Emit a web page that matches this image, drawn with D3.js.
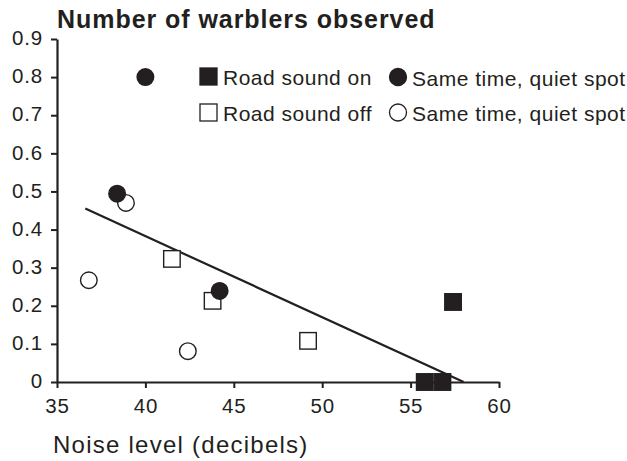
<!DOCTYPE html>
<html>
<head>
<meta charset="utf-8">
<script src="https://cdn.jsdelivr.net/npm/d3@7"></script>
<style>
  html, body { margin: 0; padding: 0; background: #fff; }
  svg { display: block; font-family: "Liberation Sans", Arial, Helvetica, sans-serif; }
</style>
</head>
<body>
<svg id="chart" width="627" height="461"></svg>
<script>
// ---- data ----
const xTicks = [35, 40, 45, 50, 55, 60];
const yTicks = [0, 0.1, 0.2, 0.3, 0.4, 0.5, 0.6, 0.7, 0.8, 0.9];
const roadSoundOn = [[55.8, 0], [56.8, 0], [57.4, 0.21]];
const roadSoundOff = [[41.5, 0.323], [43.8, 0.213], [49.2, 0.108]];
const quietOnFilled = [[40.0, 0.80], [38.4, 0.494], [44.2, 0.239]];
const quietOffOpen = [[38.9, 0.47], [36.8, 0.267], [42.4, 0.081]];
const trendLine = [[36.6, 0.455], [58.0, 0]];
const legendLabels = ["Road sound on", "Same time, quiet spot", "Road sound off", "Same time, quiet spot"];
const titleText = "Number of warblers observed";
const xTitle = "Noise level (decibels)";

// ---- setup ----
const ink = "#231f20";
const svg = d3.select("#chart");
const x = d3.scaleLinear().domain([35, 60]).range([57, 499]);
const y = d3.scaleLinear().domain([0, 0.9]).range([382, 39]);

// axes
const yAxis = svg.append("g").attr("transform", "translate(57,0)")
  .call(d3.axisLeft(y).tickValues(yTicks).tickSize(6).tickSizeOuter(0).tickPadding(8)
    .tickFormat(d => d === 0 ? "0" : d3.format(".1f")(d)));
const xAxis = svg.append("g").attr("transform", "translate(0,382)")
  .call(d3.axisBottom(x).tickValues(xTicks).tickSize(6).tickSizeOuter(0).tickPadding(6)
    .tickFormat(d3.format("d")));
[yAxis, xAxis].forEach(g => {
  g.select(".domain").attr("stroke", ink).attr("stroke-width", 2.2);
  g.selectAll(".tick line").attr("stroke", ink).attr("stroke-width", 2);
  g.selectAll(".tick text").attr("fill", ink).style("font-size", "20.5px")
    .style("letter-spacing", "0.8px").attr("font-family", null);
});
yAxis.selectAll(".tick text").attr("dy", "0.28em");
xAxis.selectAll(".tick text").attr("dy", "0.93em");

// title
svg.append("text").attr("x", 57).attr("y", 28).text(titleText)
  .attr("fill", ink).style("font-size", "25px").style("font-weight", "bold")
  .style("letter-spacing", "0.95px");

// x title
svg.append("text").attr("x", 53).attr("y", 453).text(xTitle)
  .attr("fill", ink).style("font-size", "24px").style("letter-spacing", "1.25px");

// trend line
svg.append("path").datum(trendLine)
  .attr("d", d3.line().x(d => x(d[0])).y(d => y(d[1])))
  .attr("fill", "none").attr("stroke", ink).attr("stroke-width", 2.2);

const side = 16.5, r = 8.3;
function squares(data, filled) {
  svg.append("g").selectAll("rect").data(data).join("rect")
    .attr("x", d => x(d[0]) - side / 2).attr("y", d => y(d[1]) - side / 2)
    .attr("width", side).attr("height", side)
    .attr("fill", filled ? ink : "#fff").attr("stroke", ink).attr("stroke-width", 1.4);
}
function circles(data, filled) {
  svg.append("g").selectAll("circle").data(data).join("circle")
    .attr("cx", d => x(d[0])).attr("cy", d => y(d[1])).attr("r", r)
    .attr("fill", filled ? ink : "#fff").attr("stroke", ink).attr("stroke-width", 1.4);
}
squares(roadSoundOff, false);
circles(quietOffOpen, false);
circles(quietOnFilled, true);
squares(roadSoundOn, true);

// legend
const legend = svg.append("g");
const rows = [
  {type: "square", filled: true, x: 208.5, y: 76.5, label: legendLabels[0], tx: 223},
  {type: "circle", filled: true, x: 398, y: 77, label: legendLabels[1], tx: 412},
  {type: "square", filled: false, x: 208.5, y: 112.5, label: legendLabels[2], tx: 223},
  {type: "circle", filled: false, x: 398, y: 112.5, label: legendLabels[3], tx: 412}
];
rows.forEach(d => {
  if (d.type === "square") {
    legend.append("rect").attr("x", d.x - 8.5).attr("y", d.y - 8.5).attr("width", 17).attr("height", 17)
      .attr("fill", d.filled ? ink : "#fff").attr("stroke", ink).attr("stroke-width", 1.3);
  } else {
    legend.append("circle").attr("cx", d.x).attr("cy", d.y).attr("r", 8.5)
      .attr("fill", d.filled ? ink : "#fff").attr("stroke", ink).attr("stroke-width", 1.3);
  }
  legend.append("text").attr("x", d.tx).attr("y", d.y + 8.5).text(d.label)
    .attr("fill", ink).style("font-size", "21px").style("letter-spacing", "0.5px");
});
</script>
</body>
</html>
